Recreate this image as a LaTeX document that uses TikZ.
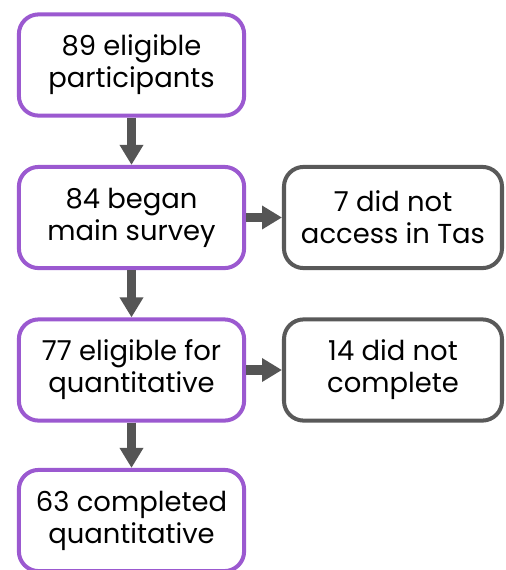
\documentclass[tikz,border=0pt]{standalone}
\usepackage{fontspec}
\setmainfont{Poppins}
\usetikzlibrary{arrows.meta}
\begin{document}
\begin{tikzpicture}[
  flowbox/.style={shape=rectangle,draw,line width=2.85pt,rounded corners=14pt,fill=white,
    minimum width=5.63cm,minimum height=2.53cm,align=center,inner sep=0pt,
    font=\fontsize{19.5}{22.8}\selectfont},
  mainbox/.style={flowbox,draw=fc_purple},
  exitbox/.style={flowbox,draw=fc_grey,minimum width=5.45cm},
  flowarrow/.style={-{Triangle[length=14.2pt,width=16pt]},line width=7.1pt,color=fc_arrow}
]
\definecolor{fc_purple}{RGB}{155,89,208}
\definecolor{fc_grey}{RGB}{89,89,89}
\definecolor{fc_arrow}{RGB}{85,85,85}
\useasboundingbox (0,0) rectangle (12.65,-14.25);

\node[mainbox] (eligible) at (3.2875,-1.625) {89 eligible\\participants};
\node[mainbox] (began) at (3.2875,-5.4375) {84 began\\main survey};
\node[mainbox] (quant) at (3.2875,-9.25) {77 eligible for\\quantitative};
\node[mainbox] (completed) at (3.2875,-13.0125) {63 completed\\quantitative};

\node[exitbox] (noaccess) at (9.825,-5.4375) {7 did not\\access in Tas};
\node[exitbox] (notdone) at (9.825,-9.25) {14 did not\\complete};

\draw[flowarrow] (eligible) -- (began);
\draw[flowarrow] (began) -- (quant);
\draw[flowarrow] (quant) -- (completed);
\draw[flowarrow] (began) -- (noaccess);
\draw[flowarrow] (quant) -- (notdone);
\end{tikzpicture}
\end{document}
